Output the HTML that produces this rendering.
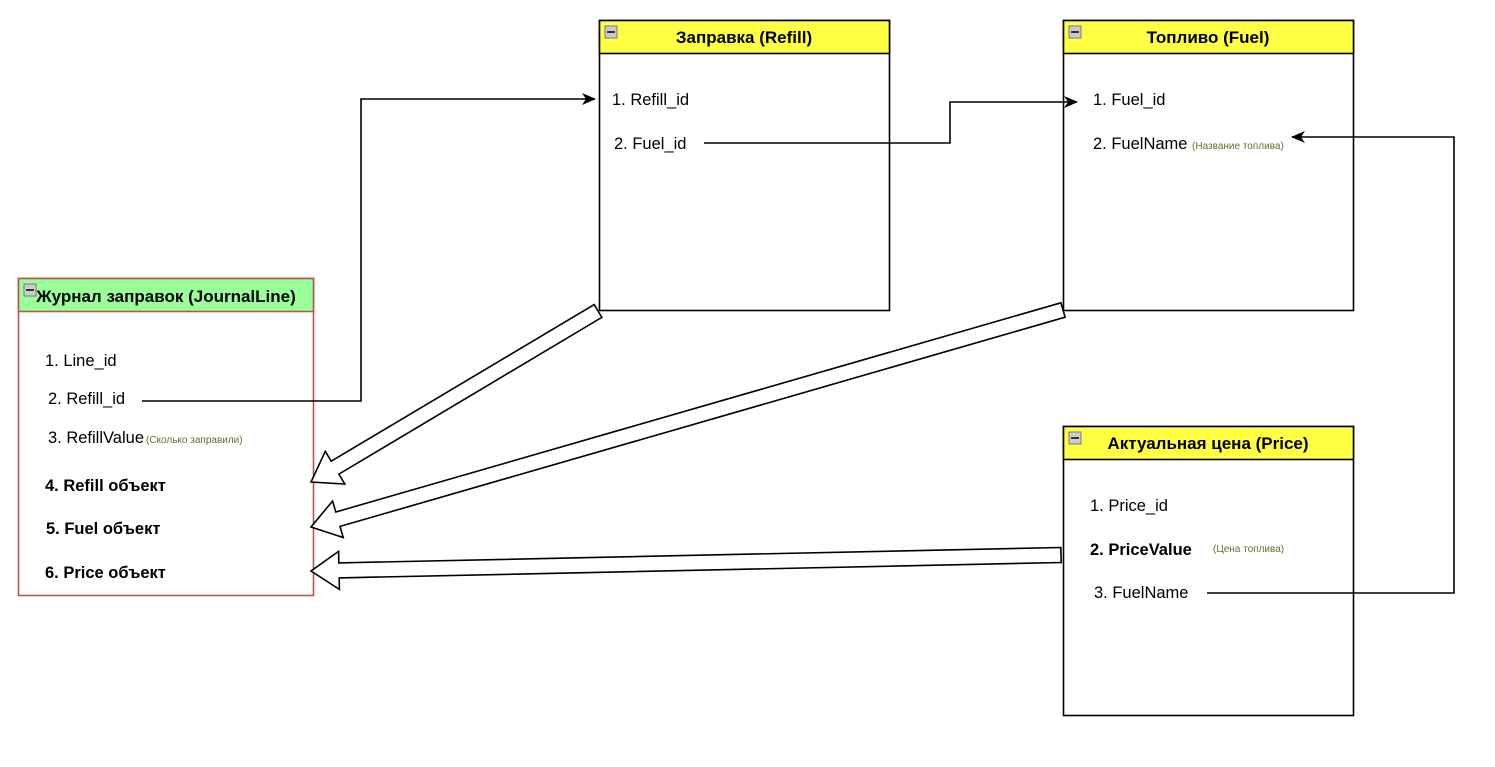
<!DOCTYPE html>
<html><head><meta charset="utf-8"><style>
html,body{margin:0;padding:0;background:#fff;}
svg{display:block;font-family:"Liberation Sans","DejaVu Sans",sans-serif;}
.t{font-size:16.5px;fill:#000;}
.b{font-size:16.5px;font-weight:bold;fill:#000;}
.s{font-size:10px;fill:#6b6b30;}
.h{font-size:17px;font-weight:bold;fill:#000;text-anchor:middle;}
</style></head><body>
<svg id="sv" width="1495" height="767" viewBox="0 0 1495 767" xmlns="http://www.w3.org/2000/svg">
<defs><marker id="ar" markerWidth="14" markerHeight="12" refX="13" refY="6" orient="auto" markerUnits="userSpaceOnUse"><path d="M0,0 L14,6 L0,12 L4,6 Z" fill="#000"/></marker></defs>

<!-- Refill -->
<rect x="599.5" y="20.5" width="290" height="290" fill="#fff" stroke="#000" stroke-width="1.6"/>
<rect x="599.5" y="20.5" width="290" height="33" fill="#ffff44" stroke="#000" stroke-width="1.6"/>
<rect x="605" y="26" width="12" height="12" fill="#ccc" stroke="#777"/><line x1="607" y1="32" x2="615" y2="32" stroke="#000" stroke-width="1.5"/>
<text class="h" x="744" y="43">Заправка (Refill)</text>
<text class="t" x="612" y="105">1. Refill_id</text>
<text class="t" x="614" y="149">2. Fuel_id</text>

<!-- Fuel -->
<rect x="1063.5" y="20.5" width="290" height="290" fill="#fff" stroke="#000" stroke-width="1.6"/>
<rect x="1063.5" y="20.5" width="290" height="33" fill="#ffff44" stroke="#000" stroke-width="1.6"/>
<rect x="1069" y="26" width="12" height="12" fill="#ccc" stroke="#777"/><line x1="1071" y1="32" x2="1079" y2="32" stroke="#000" stroke-width="1.5"/>
<text class="h" x="1208" y="43">Топливо (Fuel)</text>
<text class="t" x="1093" y="105">1. Fuel_id</text>
<text class="t" x="1093" y="149">2. FuelName <tspan class="s" dx="0">(Название топлива)</tspan></text>

<!-- Price -->
<rect x="1063.5" y="426.5" width="290" height="289" fill="#fff" stroke="#000" stroke-width="1.6"/>
<rect x="1063.5" y="426.5" width="290" height="33" fill="#ffff44" stroke="#000" stroke-width="1.6"/>
<rect x="1069" y="432" width="12" height="12" fill="#ccc" stroke="#777"/><line x1="1071" y1="438" x2="1079" y2="438" stroke="#000" stroke-width="1.5"/>
<text class="h" x="1208" y="449">Актуальная цена (Price)</text>
<text class="t" x="1090" y="511">1. Price_id</text>
<text class="b" x="1090" y="555">2. PriceValue</text>
<text class="s" x="1213" y="552">(Цена топлива)</text>
<text class="t" x="1094" y="598">3. FuelName</text>

<!-- Journal -->
<rect x="18.5" y="278.5" width="295" height="317" fill="#fff" stroke="#b85450" stroke-width="1.6"/>
<rect x="18.5" y="278.5" width="295" height="33" fill="#99ff99" stroke="#b85450" stroke-width="1.6"/>
<rect x="24" y="284" width="12" height="12" fill="#ccc" stroke="#777"/><line x1="26" y1="290" x2="34" y2="290" stroke="#000" stroke-width="1.5"/>
<text class="h" x="166" y="302">Журнал заправок (JournalLine)</text>
<text class="t" x="45" y="366">1. Line_id</text>
<text class="t" x="48" y="404">2. Refill_id</text>
<text class="t" x="48" y="443">3. RefillValue<tspan class="s" dx="2">(Сколько заправили)</tspan></text>
<text class="b" x="45" y="491">4. Refill объект</text>
<text class="b" x="46" y="534">5. Fuel объект</text>
<text class="b" x="45" y="578">6. Price объект</text>

<!-- connectors -->
<polyline points="142,401 361,401 361,99 595,99" fill="none" stroke="#000" stroke-width="1.6" marker-end="url(#ar)"/>
<polyline points="704,143 950,143 950,102 1077,102" fill="none" stroke="#000" stroke-width="1.6" marker-end="url(#ar)"/>
<polyline points="1207,593 1454,593 1454,137 1292,137" fill="none" stroke="#000" stroke-width="1.6" marker-end="url(#ar)"/>
<g id="blocks"></g>
</svg>
<script>
function blk(x1,y1,x2,y2){
 var dx=x2-x1,dy=y2-y1,L=Math.sqrt(dx*dx+dy*dy),ux=dx/L,uy=dy/L,nx=-uy,ny=ux;
 var w=7.5,hw=19,hl=28;
 var bx=x2-ux*hl,by=y2-uy*hl;
 var p=[[x1+nx*w,y1+ny*w],[bx+nx*w,by+ny*w],[bx+nx*hw,by+ny*hw],[x2,y2],[bx-nx*hw,by-ny*hw],[bx-nx*w,by-ny*w],[x1-nx*w,y1-ny*w]];
 var e=document.createElementNS("http://www.w3.org/2000/svg","polygon");
 e.setAttribute("points",p.map(function(q){return q[0].toFixed(1)+","+q[1].toFixed(1)}).join(" "));
 e.setAttribute("fill","#fff");e.setAttribute("stroke","#000");e.setAttribute("stroke-width","1.6");
 document.getElementById("blocks").appendChild(e);
}
blk(598,311,311,482);
blk(1063,310,311,527);
blk(1061,555,311,571);
</script>
</body></html>
